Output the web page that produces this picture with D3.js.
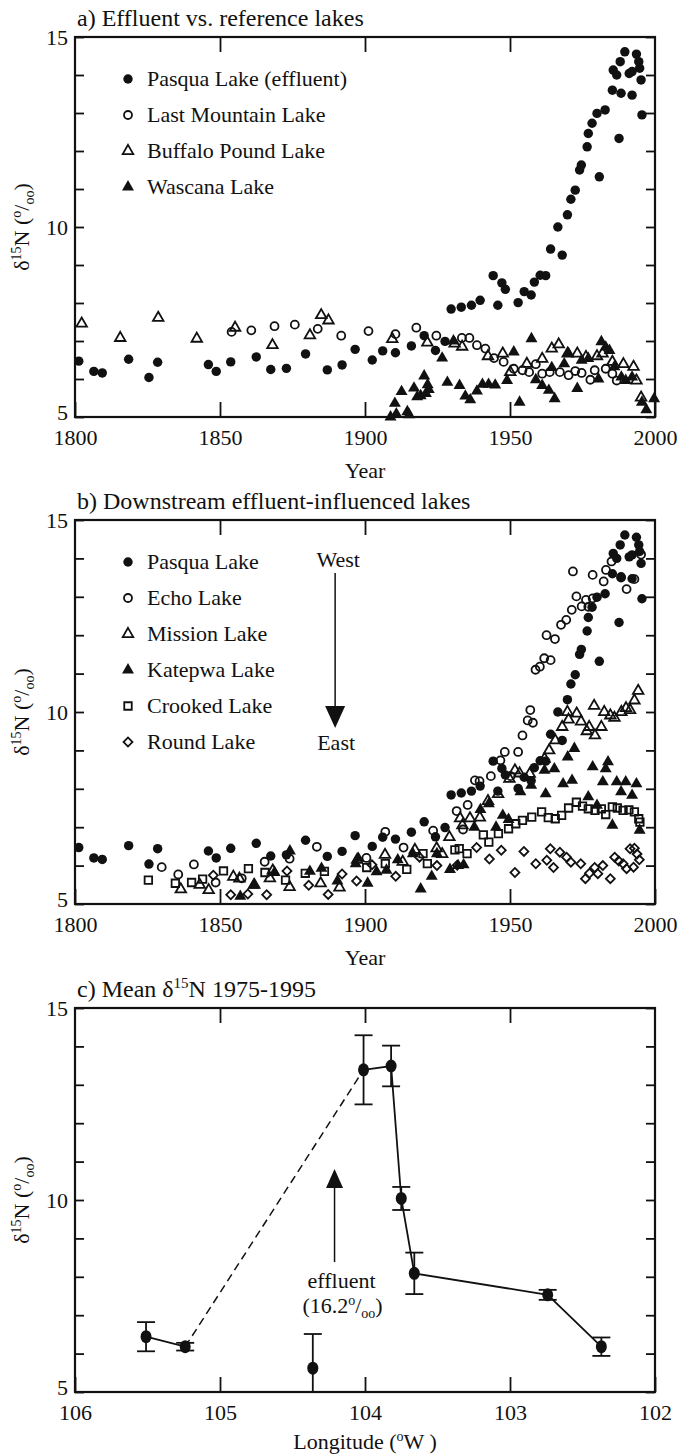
<!DOCTYPE html>
<html>
<head>
<meta charset="utf-8">
<script src="https://cdn.jsdelivr.net/npm/d3@7"></script>
<style>
  body { margin: 0; background: #fff; }
  svg text { font-family: "Liberation Serif", "Times New Roman", serif; fill: #111; }
</style>
</head>
<body>
<svg id="chart" width="683" height="1454"></svg>
<script>
// ---- data ----
const yearTicks = [1800, 1850, 1900, 1950, 2000];
const lonTicks = [106, 105, 104, 103, 102];
const yTicks = d3.range(5, 16);

const pasqua = [[1801.3,6.47],[1806.5,6.2],[1809.4,6.16],[1818.5,6.52],[1825.5,6.04],[1828.5,6.44],[1846,6.38],[1848.7,6.2],
  [1853.7,6.45],[1862.5,6.58],[1867.5,6.25],[1872.9,6.28],[1879.5,6.66],[1887,6.24],[1892.1,6.37],[1896.6,6.78],[1902.5,6.5],
  [1906.1,6.74],[1910.5,6.69],[1916,6.87],[1920.4,7.14],[1924.3,6.75],[1927.6,6.99],[1929.7,7.84],[1933.2,7.89],[1936.7,7.94],
  [1939.7,8.07],[1944.2,8.72],[1945.8,7.94],[1947.2,8.53],[1948.4,8.36],[1952.8,8.01],[1954.9,8.3],[1957.3,8.21],[1958.4,8.55],
  [1960.4,8.73],[1962.3,8.72],[1964,9.42],[1966.5,10.0],[1968,9.26],[1969.8,10.32],[1971,10.73],[1972.5,10.97],[1974,11.5],
  [1974.6,11.63],[1976.6,12.11],[1977,12.46],[1978.3,12.73],[1980,12.99],[1982.8,13.08],[1980.8,11.32],[1985.3,13.6],
  [1985.6,14.13],[1986.8,14.0],[1988,14.35],[1988.3,13.52],[1987.6,12.33],[1989.6,14.61],[1991.1,14.04],[1992.1,14.09],
  [1992.1,13.47],[1993.6,14.55],[1994.4,14.35],[1994.7,14.18],[1995.2,13.87],[1995.5,12.95]];

const lastMountain = [[1854,7.24],[1860.8,7.28],[1868.8,7.39],[1875.8,7.43],[1883.7,7.32],[1891.8,7.14],[1901.2,7.26],
  [1910.5,7.18],[1917.7,7.35],[1924.6,7.14],[1933.4,7.08],[1936,7.08],[1938.6,6.89],[1941.5,6.8],[1944.5,6.55],[1947.8,6.45],
  [1951.3,6.27],[1954.3,6.23],[1956.6,6.18],[1958.9,6.39],[1961.1,6.14],[1963.7,6.18],[1967.2,6.18],[1970.2,6.1],[1972.5,6.21],
  [1974.7,6.16],[1977.7,5.98],[1979.2,6.23],[1983,6.27],[1985.3,6.14],[1986.8,5.96]];

const buffaloPound = [[1802.3,7.46],[1815.6,7.08],[1828.7,7.61],[1842,7.06],[1855.2,7.35],[1868.1,6.89],[1881,7.15],
  [1884.9,7.68],[1887.4,7.54],[1909.4,7.05],[1921.5,6.96],[1930.9,6.93],[1933.5,6.85],[1942.4,6.6],[1947.5,6.67],[1950.1,6.18],
  [1955.8,6.4],[1961.1,6.53],[1964.4,6.8],[1966.8,6.91],[1969.9,6.67],[1973.2,6.67],[1976.2,6.58],[1980,6.6],[1981.9,6.67],
  [1985.3,6.45],[1989.1,6.39],[1992.6,6.32],[1993.6,5.96],[1995.2,5.51]];

const wascana = [[1908.8,5.0],[1910.3,5.36],[1910.8,5.08],[1912.6,5.67],[1914.6,5.14],[1915.2,5.06],[1916.9,5.76],[1918,5.53],
  [1919.2,5.56],[1920.4,6.08],[1921,5.62],[1922,5.72],[1921.6,5.85],[1926.6,6.55],[1928.4,5.91],[1930.5,7.0],[1932.6,5.83],
  [1934.6,5.55],[1936.3,5.45],[1938.6,5.68],[1940.5,5.86],[1942.6,5.86],[1944.9,5.84],[1949,5.96],[1951.3,6.71],[1953.3,5.39],
  [1957.4,7.06],[1958.9,5.98],[1961.1,5.83],[1963.4,5.7],[1965.4,5.48],[1964.4,6.3],[1968.7,6.4],[1970.2,6.67],[1973.2,5.75],
  [1974.7,6.49],[1977,6.54],[1980.5,6.0],[1981.5,6.98],[1983,6.84],[1984.3,6.75],[1986,6.32],[1988.4,6.05],[1989.9,5.96],
  [1992.1,6.05],[1995.5,5.39],[1997,5.19],[1999.7,5.48]];

const echo = [[1829.9,5.96],[1835.6,5.77],[1841,6.03],[1848.5,5.56],[1857.5,5.67],[1865.4,6.1],[1874,6.18],[1883.4,6.49],
  [1900.5,6.2],[1907,6.88],[1913.3,6.47],[1923.5,6.91],[1931.6,7.42],[1933.8,6.94],[1935.4,7.58],[1937.9,8.22],[1939.5,8.2],
  [1943.4,8.33],[1946.7,8.74],[1948.2,8.96],[1950.2,8.33],[1952.8,8.96],[1954.3,9.39],[1956.1,9.78],[1957,10.05],[1957.9,9.72],
  [1958.8,11.1],[1960.3,11.18],[1961.8,11.4],[1962.6,12.0],[1964,11.35],[1965.5,11.9],[1967.6,12.27],[1969.4,12.4],
  [1971.3,12.66],[1971.7,13.66],[1972.9,13.01],[1974.7,12.75],[1976.2,12.92],[1977,12.74],[1978.5,12.96],[1978.5,13.57],
  [1982.3,13.4],[1983.1,13.7],[1985,13.92],[1988.3,13.5],[1990.2,13.2],[1992.9,13.46],[1995.2,14.1]];

const mission = [[1836.5,5.38],[1843,5.5],[1846.1,5.36],[1854.6,5.71],[1856.7,5.66],[1861.8,5.5],[1867.2,5.67],[1868.2,5.87],
  [1874,5.44],[1884.7,5.54],[1891.2,5.43],[1897.3,6.15],[1906.9,6.28],[1913,6.1],[1917.2,6.41],[1924.7,6.45],[1926.6,6.3],
  [1929.1,6.74],[1932.8,7.23],[1933.6,7.05],[1936.2,7.23],[1939.6,7.25],[1942.4,7.68],[1945.9,7.86],[1949.8,8.26],[1951.7,8.48],
  [1953.3,8.4],[1956.8,8.39],[1961.9,8.78],[1963.5,9.0],[1965.6,9.26],[1968,9.61],[1969.8,10.0],[1970.2,9.8],[1973,9.96],
  [1974.5,9.75],[1976.5,9.5],[1977.3,9.61],[1979.3,9.39],[1979,10.16],[1981.5,9.61],[1982.5,10.0],[1984.6,9.91],[1986,9.85],
  [1988.4,10.0],[1990,10.1],[1991.4,10.05],[1992.9,10.3],[1994.2,10.55]];

const katepwa = [[1857,5.2],[1861.6,5.49],[1868.8,5.82],[1874.1,6.38],[1881,5.85],[1885,5.93],[1890.5,5.6],[1896.8,6.05],
  [1897.7,6.19],[1900.9,5.54],[1904,5.84],[1907.4,5.88],[1911.3,6.15],[1916.5,6.31],[1919.2,5.39],[1923,5.72],[1924.8,6.31],
  [1929.3,5.9],[1932.1,6.0],[1934,6.02],[1937.7,7.0],[1939.8,7.46],[1942.7,7.61],[1945.2,7.0],[1947.5,7.31],[1949.5,7.2],
  [1953.6,7.92],[1957.3,8.09],[1961.9,8.48],[1962.3,7.87],[1965.3,8.52],[1968.3,8.13],[1969.9,8.83],[1971.4,8.22],[1972.2,9.05],
  [1977,7.79],[1978.5,8.57],[1980,7.57],[1982,8.18],[1983,8.52],[1983.8,8.7],[1985.3,7.05],[1986.8,8.18],[1988.3,7.92],
  [1989.9,8.18],[1992.1,7.83],[1993.6,8.13],[1994.7,6.92]];

const crooked = [[1825.3,5.62],[1834.6,5.54],[1840.2,5.56],[1844,5.65],[1851.2,5.86],[1859.8,5.92],[1865.5,5.82],[1872.6,5.62],
  [1879.4,5.8],[1886,5.85],[1900.6,5.95],[1907,6.05],[1914.4,5.9],[1920,6.31],[1921.5,6.05],[1931,6.41],[1932.5,6.44],
  [1935.2,6.31],[1940.8,6.8],[1942.7,6.61],[1946,6.83],[1949.5,6.96],[1952,7.09],[1954.3,7.18],[1957.5,7.26],[1960.9,7.4],
  [1963.2,7.25],[1965.6,7.22],[1967.8,7.31],[1970.2,7.5],[1972.9,7.65],[1975,7.55],[1977,7.48],[1979.3,7.44],[1981.5,7.48],
  [1983,7.33],[1985.3,7.53],[1987,7.5],[1989,7.44],[1991,7.45],[1992.9,7.4],[1994.4,7.22],[1994.8,7.13]];

const round = [[1847.7,5.75],[1853.7,5.24],[1859.6,5.26],[1866.1,5.24],[1873.1,5.86],[1880.6,5.49],[1887.3,5.25],[1892.1,5.78],
  [1897.1,5.6],[1902.4,6.02],[1910.6,5.72],[1918.8,6.22],[1924.8,6.0],[1931.8,6.01],[1938.5,6.47],[1942.9,6.17],[1947,6.4],
  [1951.7,5.82],[1954.8,6.37],[1958.9,6.05],[1962.7,6.14],[1963.9,6.44],[1965,5.95],[1967.2,6.35],[1969.5,6.22],[1971,6.09],
  [1974.4,6.05],[1976,5.66],[1977.4,5.8],[1979.2,5.95],[1980.3,5.79],[1982,6.0],[1984.6,5.66],[1986.1,6.22],[1987.5,6.12],
  [1989,6.05],[1990.2,5.92],[1991.4,6.44],[1992.6,5.96],[1992.9,6.45],[1993.8,6.3],[1994.6,6.15]];

// panel c: mean d15N 1975-1995 by longitude
const lakeLon = [105.51, 105.24, 104.36, 104.01, 103.82, 103.75, 103.66, 102.74, 102.37];
const lakeMean = [6.44, 6.18, 5.62, 13.39, 13.49, 10.04, 8.09, 7.53, 6.18];
const lakeErr = [0.38, 0.1, 0.89, 0.9, 0.53, 0.3, 0.54, 0.13, 0.24];
const solidRuns = [[0, 1], [3, 4, 5, 6, 7, 8]];
const dashedRuns = [[1, 3]];

// ---- layout ----
const svg = d3.select('#chart');
const L = 75, R = 655, FS = 22, TS = 24;
const yearX = d3.scaleLinear().domain([1800, 2000]).range([L, R]);
const lonX = d3.scaleLinear().domain([106, 102]).range([L, R]);

const markers = {
  filledCircle:  { d: d3.symbol(d3.symbolCircle, 70)(), fill: '#111', stroke: 'none' },
  openCircle:    { d: d3.symbol(d3.symbolCircle, 50)(), fill: 'none', stroke: '#111' },
  openTriangle:  { d: d3.symbol(d3.symbolTriangle, 48)(), fill: 'none', stroke: '#111' },
  filledTriangle:{ d: d3.symbol(d3.symbolTriangle, 62)(), fill: '#111', stroke: 'none' },
  openSquare:    { d: d3.symbol(d3.symbolSquare, 56)(), fill: 'none', stroke: '#111' },
  openDiamond:   { d: d3.symbol(d3.symbolSquare, 40)(), fill: 'none', stroke: '#111', rot: 45 },
};

function drawMarkers(g, data, x, y, type) {
  const m = markers[type];
  g.append('g').selectAll('path').data(data).join('path')
    .attr('d', m.d)
    .attr('transform', (d) => `translate(${x(d[0])},${y(d[1])})${m.rot ? ` rotate(${m.rot})` : ''}`)
    .attr('fill', m.fill).attr('stroke', m.stroke).attr('stroke-width', 1.8);
}

function panel(top, bottom, x, ticks, fmt) {
  const y = d3.scaleLinear().domain([5, 15]).range([bottom, top]);
  const g = svg.append('g');
  g.append('g').attr('transform', `translate(${L},0)`)
    .call(d3.axisLeft(y).tickValues(yTicks).tickSize(-9).tickPadding(7).tickFormat((d) => (d % 5 ? '' : d)));
  g.append('g').attr('transform', `translate(${R},0)`)
    .call(d3.axisRight(y).tickValues(yTicks).tickSize(-9).tickFormat(''));
  g.append('g').attr('transform', `translate(0,${top})`)
    .call(d3.axisTop(x).tickValues(ticks.slice(1, -1)).tickSize(-15).tickFormat(''));
  g.append('g').attr('transform', `translate(0,${bottom})`)
    .call(d3.axisBottom(x).tickValues(ticks).tickSize(-15).tickPadding(12).tickFormat(fmt));
  g.selectAll('.domain').remove();
  g.selectAll('.tick line').attr('stroke', '#111').attr('stroke-width', 1.8);
  g.selectAll('.tick text').attr('font-size', FS).attr('fill', '#111');
  // lift the bottom "5" a little off the x labels
  g.selectAll('.tick text').filter((d) => d === 5 && ticks[0] !== 5).attr('dy', '0.1em');
  g.append('rect').attr('x', L).attr('y', top).attr('width', R - L).attr('height', bottom - top)
    .attr('fill', 'none').attr('stroke', '#111').attr('stroke-width', 2.2);
  // y label
  const t = svg.append('text').attr('transform', `translate(29,${(top + bottom) / 2}) rotate(-90)`)
    .attr('text-anchor', 'middle').attr('font-size', FS);
  t.append('tspan').text('δ');
  t.append('tspan').attr('font-size', 14).attr('dy', -8).text('15');
  t.append('tspan').attr('dy', 8).text('N (');
  t.append('tspan').attr('font-size', 14).attr('dy', -8).text('o');
  t.append('tspan').attr('dy', 8).text('/');
  t.append('tspan').attr('font-size', 14).attr('dy', 5).text('oo');
  t.append('tspan').attr('dy', -5).text(')');
  return { g, y };
}

function title(text, top) {
  return svg.append('text').attr('x', 77).attr('y', top - 11).attr('font-size', TS).text(text);
}

function xTitle(text, yPos) {
  return svg.append('text').attr('x', (L + R) / 2).attr('y', yPos).attr('text-anchor', 'middle').attr('font-size', FS).text(text);
}

function legend(items, top) {
  items.forEach(([label, type], i) => {
    const cy = top + 42 + i * 36;
    const m = markers[type];
    svg.append('path').attr('d', m.d)
      .attr('transform', `translate(128,${cy})${m.rot ? ` rotate(${m.rot})` : ''}`)
      .attr('fill', m.fill).attr('stroke', m.stroke).attr('stroke-width', 1.8);
    svg.append('text').attr('x', 147).attr('y', cy + 7).attr('font-size', FS).text(label);
  });
}

const fmtYear = d3.format('d');

// ---- panel a ----
const pa = panel(37, 417, yearX, yearTicks, fmtYear);
title('a) Effluent vs. reference lakes', 37);
xTitle('Year', 478);
drawMarkers(pa.g, buffaloPound, yearX, pa.y, 'openTriangle');
drawMarkers(pa.g, lastMountain, yearX, pa.y, 'openCircle');
drawMarkers(pa.g, wascana, yearX, pa.y, 'filledTriangle');
drawMarkers(pa.g, pasqua, yearX, pa.y, 'filledCircle');
legend([['Pasqua Lake (effluent)', 'filledCircle'], ['Last Mountain Lake', 'openCircle'],
  ['Buffalo Pound Lake', 'openTriangle'], ['Wascana Lake', 'filledTriangle']], 37);

// ---- panel b ----
const pb = panel(520, 904, yearX, yearTicks, fmtYear);
title('b) Downstream effluent-influenced lakes', 520);
xTitle('Year', 965);
drawMarkers(pb.g, round, yearX, pb.y, 'openDiamond');
drawMarkers(pb.g, crooked, yearX, pb.y, 'openSquare');
drawMarkers(pb.g, katepwa, yearX, pb.y, 'filledTriangle');
drawMarkers(pb.g, mission, yearX, pb.y, 'openTriangle');
drawMarkers(pb.g, echo, yearX, pb.y, 'openCircle');
drawMarkers(pb.g, pasqua, yearX, pb.y, 'filledCircle');
legend([['Pasqua Lake', 'filledCircle'], ['Echo Lake', 'openCircle'], ['Mission Lake', 'openTriangle'],
  ['Katepwa Lake', 'filledTriangle'], ['Crooked Lake', 'openSquare'], ['Round Lake', 'openDiamond']], 520);

// west -> east arrow
const ax = yearX(1889.7);
svg.append('text').attr('x', ax + 3).attr('y', 567).attr('text-anchor', 'middle').attr('font-size', FS).text('West');
svg.append('line').attr('x1', ax).attr('x2', ax).attr('y1', 573).attr('y2', 708).attr('stroke', '#111').attr('stroke-width', 1.5);
svg.append('path').attr('d', `M${ax - 10},706L${ax + 10},706L${ax},728Z`).attr('fill', '#111');
svg.append('text').attr('x', ax + 1).attr('y', 750).attr('text-anchor', 'middle').attr('font-size', FS).text('East');

// ---- panel c ----
const pc = panel(1008, 1392, lonX, lonTicks, (d) => d);
const ct = title('c) Mean δ', 1008);
ct.append('tspan').attr('font-size', 15).attr('dy', -9).text('15');
ct.append('tspan').attr('dy', 9).text('N 1975-1995');
const lt = xTitle('Longitude (', 1449);
lt.append('tspan').attr('font-size', 14).attr('dy', -8).text('o');
lt.append('tspan').attr('dy', 8).text('W )');

svg.append('clipPath').attr('id', 'clipc').append('rect')
  .attr('x', L).attr('y', 1008).attr('width', R - L).attr('height', 1392 - 1008);
const cg = svg.append('g').attr('clip-path', 'url(#clipc)');
const lakes = lakeLon.map((lon, i) => ({ lon, mean: lakeMean[i], err: lakeErr[i] }));
const line = d3.line().x((d) => lonX(d.lon)).y((d) => pc.y(d.mean));
solidRuns.forEach((run) => cg.append('path').attr('d', line(run.map((i) => lakes[i])))
  .attr('fill', 'none').attr('stroke', '#111').attr('stroke-width', 1.8));
dashedRuns.forEach((run) => cg.append('path').attr('d', line(run.map((i) => lakes[i])))
  .attr('fill', 'none').attr('stroke', '#111').attr('stroke-width', 1.5).attr('stroke-dasharray', '8,5'));
const eb = cg.append('g').selectAll('g').data(lakes).join('g').attr('stroke', '#111').attr('stroke-width', 1.8);
eb.append('line').attr('x1', (d) => lonX(d.lon)).attr('x2', (d) => lonX(d.lon))
  .attr('y1', (d) => pc.y(d.mean - d.err)).attr('y2', (d) => pc.y(d.mean + d.err));
eb.append('line').attr('x1', (d) => lonX(d.lon) - 9).attr('x2', (d) => lonX(d.lon) + 9)
  .attr('y1', (d) => pc.y(d.mean + d.err)).attr('y2', (d) => pc.y(d.mean + d.err));
eb.append('line').attr('x1', (d) => lonX(d.lon) - 9).attr('x2', (d) => lonX(d.lon) + 9)
  .attr('y1', (d) => pc.y(d.mean - d.err)).attr('y2', (d) => pc.y(d.mean - d.err));
cg.append('g').selectAll('ellipse').data(lakes).join('ellipse')
  .attr('cx', (d) => lonX(d.lon)).attr('cy', (d) => pc.y(d.mean))
  .attr('rx', 5.5).attr('ry', 6.5).attr('fill', '#111');

// effluent arrow
const ex = lonX(104.21);
svg.append('line').attr('x1', ex).attr('x2', ex).attr('y1', 1262).attr('y2', 1186).attr('stroke', '#111').attr('stroke-width', 1.5);
svg.append('path').attr('d', `M${ex - 8.5},1188L${ex + 8.5},1188L${ex},1169Z`).attr('fill', '#111');
svg.append('text').attr('x', ex + 7).attr('y', 1288).attr('text-anchor', 'middle').attr('font-size', FS).text('effluent');
const et = svg.append('text').attr('x', ex + 8).attr('y', 1313).attr('text-anchor', 'middle').attr('font-size', FS).text('(16.2');
et.append('tspan').attr('font-size', 14).attr('dy', -8).text('o');
et.append('tspan').attr('dy', 8).text('/');
et.append('tspan').attr('font-size', 14).attr('dy', 5).text('oo');
et.append('tspan').attr('dy', -5).text(')');
</script>
</body>
</html>
